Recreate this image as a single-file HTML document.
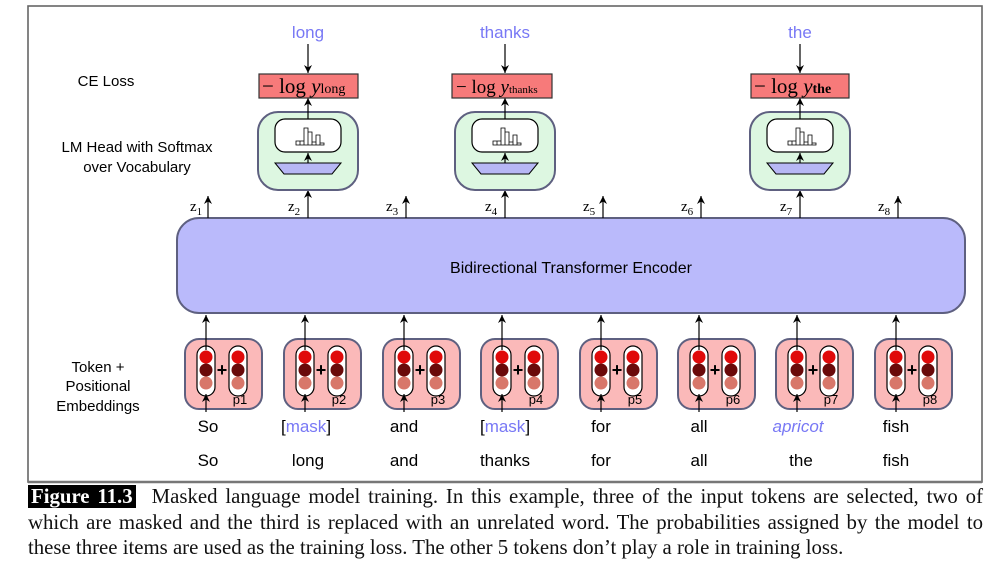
<!DOCTYPE html>
<html><head><meta charset="utf-8"><style>
body{margin:0;background:#fff;width:1001px;height:574px;overflow:hidden;position:relative}
svg{position:absolute;left:0;top:0}
.cap{position:absolute;left:28px;top:484px;width:955px;font-family:"Liberation Serif",serif;font-size:20.8px;line-height:25.5px;color:#111;text-align:justify}
.fig{background:#000;color:#fff;font-weight:bold;padding:0 3px;margin-right:16px}
</style></head><body>
<svg width="1001" height="574" xmlns="http://www.w3.org/2000/svg" font-family="Liberation Sans, sans-serif">
<defs>
<marker id="a" markerWidth="9" markerHeight="8" refX="8" refY="4" orient="auto" markerUnits="userSpaceOnUse"><path d="M0,0 L8,4 L0,8 L2.5,4 Z" fill="#000"/></marker>
<g id="emb">
<rect x="-21" y="0" width="77" height="70" rx="14" fill="#fbb9b9" stroke="#5e6080" stroke-width="2"/>
<rect x="-9" y="7" width="18" height="50" rx="9" fill="#fff" stroke="#000" stroke-width="1.2"/>
<circle cx="0" cy="18" r="6.5" fill="#e00a0a"/><circle cx="0" cy="31" r="6.5" fill="#6a0a0a"/><circle cx="0" cy="44" r="6.5" fill="#d8776a"/>
<rect x="23" y="7" width="18" height="50" rx="9" fill="#fff" stroke="#000" stroke-width="1.2"/>
<circle cx="32" cy="18" r="6.5" fill="#e00a0a"/><circle cx="32" cy="31" r="6.5" fill="#6a0a0a"/><circle cx="32" cy="44" r="6.5" fill="#d8776a"/>
<text x="16" y="37" font-size="18" text-anchor="middle" font-weight="bold">+</text>
</g>
<g id="head">
<rect x="-50" y="0" width="100" height="78" rx="20" fill="#ddf7e1" stroke="#5e6080" stroke-width="2"/>
<rect x="-33" y="7" width="66" height="33" rx="10" fill="#fff" stroke="#000" stroke-width="1.2"/>
<path d="M-12,33h4v-4h-4zM-8,33h4v-4h-4zM-4,33h4v-17h-4zM0,33h4v-13h-4zM4,33h4v-3h-4zM8,33h4v-10h-4zM12,33h4v-2h-4z" fill="#fff" stroke="#000" stroke-width="0.8"/>
<path d="M-33,51 L33,51 L24,62 L-24,62 Z" fill="#b7b7f5" stroke="#000" stroke-width="1"/>
<line x1="0" y1="51" x2="0" y2="41" stroke="#000" stroke-width="1.2" marker-end="url(#a)"/>
</g>
</defs>
<rect x="28" y="6" width="954" height="476" fill="none" stroke="#666" stroke-width="1.6"/>
<line x1="28" y1="482" x2="982" y2="482" stroke="#777" stroke-width="2.5"/>
<rect x="177" y="218" width="788" height="95" rx="22" fill="#babafb" stroke="#5e6080" stroke-width="2"/>
<text x="571" y="273" font-size="16" text-anchor="middle">Bidirectional Transformer Encoder</text>
<g font-size="15" text-anchor="middle">
<text x="106" y="86">CE Loss</text>
<text x="137" y="152">LM Head with Softmax</text>
<text x="137" y="172">over Vocabulary</text>
<text x="98" y="372">Token +</text>
<text x="98" y="391">Positional</text>
<text x="98" y="411">Embeddings</text>
</g>
<g stroke="#000" stroke-width="1.2">
<line x1="208" y1="218" x2="208" y2="196" marker-end="url(#a)"/>
<line x1="308" y1="218" x2="308" y2="190" marker-end="url(#a)"/>
<line x1="406" y1="218" x2="406" y2="196" marker-end="url(#a)"/>
<line x1="505" y1="218" x2="505" y2="190" marker-end="url(#a)"/>
<line x1="603" y1="218" x2="603" y2="196" marker-end="url(#a)"/>
<line x1="701" y1="218" x2="701" y2="196" marker-end="url(#a)"/>
<line x1="800" y1="218" x2="800" y2="190" marker-end="url(#a)"/>
<line x1="898" y1="218" x2="898" y2="196" marker-end="url(#a)"/>
</g>
<g font-family="Liberation Serif, serif" font-size="15">
<text x="190" y="211">z<tspan font-size="11" dy="4">1</tspan></text>
<text x="288" y="211">z<tspan font-size="11" dy="4">2</tspan></text>
<text x="386" y="211">z<tspan font-size="11" dy="4">3</tspan></text>
<text x="485" y="211">z<tspan font-size="11" dy="4">4</tspan></text>
<text x="583" y="211">z<tspan font-size="11" dy="4">5</tspan></text>
<text x="681" y="211">z<tspan font-size="11" dy="4">6</tspan></text>
<text x="780" y="211">z<tspan font-size="11" dy="4">7</tspan></text>
<text x="878" y="211">z<tspan font-size="11" dy="4">8</tspan></text>
</g>
<use href="#head" x="308" y="112"/><use href="#head" x="505" y="112"/><use href="#head" x="800" y="112"/>
<g stroke="#000" stroke-width="1.2">
<line x1="308" y1="119" x2="308" y2="98" marker-end="url(#a)"/>
<line x1="505" y1="119" x2="505" y2="98" marker-end="url(#a)"/>
<line x1="800" y1="119" x2="800" y2="98" marker-end="url(#a)"/>
<line x1="308" y1="44" x2="308" y2="73" marker-end="url(#a)"/>
<line x1="505" y1="44" x2="505" y2="73" marker-end="url(#a)"/>
<line x1="800" y1="44" x2="800" y2="73" marker-end="url(#a)"/>
</g>
<g fill="#f77a7a" stroke="#333" stroke-width="1.2">
<rect x="259" y="74" width="99" height="24"/><rect x="452" y="74" width="100" height="24"/><rect x="751" y="74" width="98" height="24"/>
</g>
<g font-family="Liberation Serif, serif" font-size="21">
<text x="262" y="93">− log <tspan font-style="italic">y</tspan><tspan font-size="14">long</tspan></text>
<text x="456" y="93" font-size="19">− log <tspan font-style="italic">y</tspan><tspan font-size="11">thanks</tspan></text>
<text x="754" y="93">− log <tspan font-style="italic">y</tspan><tspan font-size="14" font-weight="bold">the</tspan></text>
</g>
<g font-size="17" fill="#7878f5" text-anchor="middle">
<text x="308" y="38">long</text><text x="505" y="38">thanks</text><text x="800" y="38">the</text>
</g>
<use href="#emb" x="206" y="339"/><use href="#emb" x="305" y="339"/><use href="#emb" x="404" y="339"/><use href="#emb" x="502" y="339"/>
<use href="#emb" x="601" y="339"/><use href="#emb" x="699" y="339"/><use href="#emb" x="797" y="339"/><use href="#emb" x="896" y="339"/>
<g font-size="13" text-anchor="middle">
<text x="240" y="404">p1</text><text x="339" y="404">p2</text><text x="438" y="404">p3</text><text x="536" y="404">p4</text>
<text x="635" y="404">p5</text><text x="733" y="404">p6</text><text x="831" y="404">p7</text><text x="930" y="404">p8</text>
</g>
<g stroke="#000" stroke-width="1.2">
<line x1="206" y1="350" x2="206" y2="315" marker-end="url(#a)"/>
<line x1="305" y1="350" x2="305" y2="315" marker-end="url(#a)"/>
<line x1="404" y1="350" x2="404" y2="315" marker-end="url(#a)"/>
<line x1="502" y1="350" x2="502" y2="315" marker-end="url(#a)"/>
<line x1="601" y1="350" x2="601" y2="315" marker-end="url(#a)"/>
<line x1="699" y1="350" x2="699" y2="315" marker-end="url(#a)"/>
<line x1="797" y1="350" x2="797" y2="315" marker-end="url(#a)"/>
<line x1="896" y1="350" x2="896" y2="315" marker-end="url(#a)"/>
<line x1="206" y1="412" x2="206" y2="394" marker-end="url(#a)"/>
<line x1="305" y1="412" x2="305" y2="394" marker-end="url(#a)"/>
<line x1="404" y1="412" x2="404" y2="394" marker-end="url(#a)"/>
<line x1="502" y1="412" x2="502" y2="394" marker-end="url(#a)"/>
<line x1="601" y1="412" x2="601" y2="394" marker-end="url(#a)"/>
<line x1="699" y1="412" x2="699" y2="394" marker-end="url(#a)"/>
<line x1="797" y1="412" x2="797" y2="394" marker-end="url(#a)"/>
<line x1="896" y1="412" x2="896" y2="394" marker-end="url(#a)"/>
</g>
<g font-size="17" text-anchor="middle">
<text x="208" y="432">So</text>
<text x="306" y="432">[<tspan fill="#7878f5">mask</tspan>]</text>
<text x="404" y="432">and</text>
<text x="505" y="432">[<tspan fill="#7878f5">mask</tspan>]</text>
<text x="601" y="432">for</text>
<text x="699" y="432">all</text>
<text x="798" y="432" fill="#7878f5" font-style="italic">apricot</text>
<text x="896" y="432">fish</text>
<text x="208" y="466">So</text><text x="308" y="466">long</text><text x="404" y="466">and</text><text x="505" y="466">thanks</text>
<text x="601" y="466">for</text><text x="699" y="466">all</text><text x="801" y="466">the</text><text x="896" y="466">fish</text>
</g>
</svg>
<div class="cap"><span class="fig">Figure 11.3</span>Masked language model training. In this example, three of the input tokens are selected, two of which are masked and the third is replaced with an unrelated word. The probabilities assigned by the model to these three items are used as the training loss. The other 5 tokens don’t play a role in training loss.</div>
</body></html>
